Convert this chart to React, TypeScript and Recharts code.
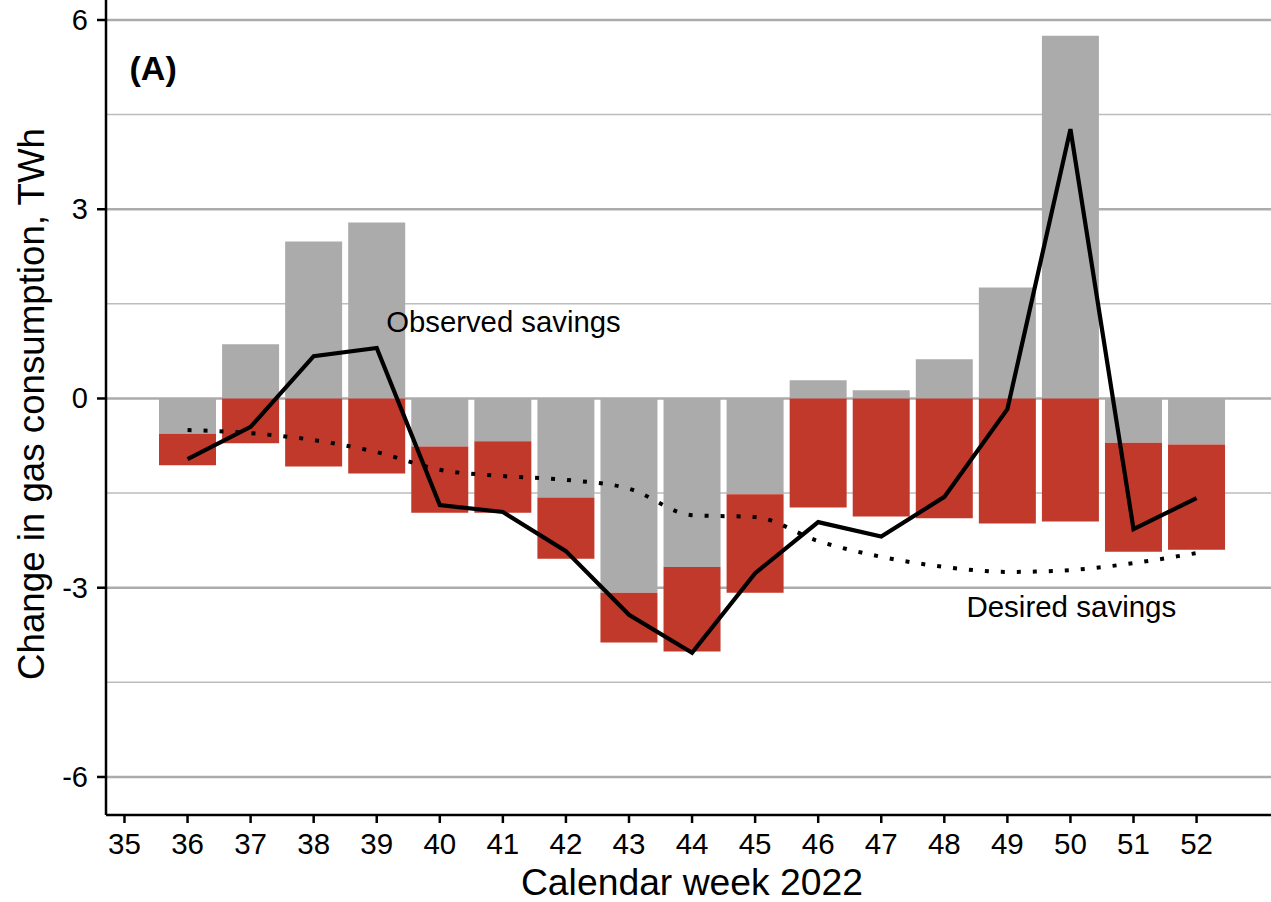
import React from 'react';
import { ComposedChart, Bar, Line, XAxis, YAxis, CartesianGrid, ReferenceDot, Label } from 'recharts';

const weeks = [36, 37, 38, 39, 40, 41, 42, 43, 44, 45, 46, 47, 48, 49, 50, 51, 52];
const weatherEffect = [-0.56, 0.86, 2.49, 2.79, -0.76, -0.68, -1.57, -3.08, -2.67, -1.52, 0.29, 0.13, 0.62, 1.76, 5.75, -0.7, -0.73];
const savingsEffect = [-0.5, -0.71, -1.08, -1.19, -1.05, -1.13, -0.97, -0.79, -1.34, -1.56, -1.73, -1.87, -1.9, -1.98, -1.95, -1.73, -1.67];
const observedSavings = [-0.96, -0.45, 0.67, 0.8, -1.69, -1.8, -2.42, -3.43, -4.03, -2.77, -1.96, -2.19, -1.56, -0.17, 4.27, -2.07, -1.58];
const desiredSavings = [-0.5, -0.55, -0.66, -0.85, -1.13, -1.23, -1.29, -1.43, -1.85, -1.88, -2.26, -2.51, -2.67, -2.75, -2.72, -2.61, -2.45];

const xTicks = [35, 36, 37, 38, 39, 40, 41, 42, 43, 44, 45, 46, 47, 48, 49, 50, 51, 52];
const yTicks = [-6, -3, 0, 3, 6];
const majorGrid = [-6, -3, 0, 3, 6];
const minorGrid = [-4.5, -1.5, 1.5, 4.5];

const data = weeks.map((week, i) => ({
  week,
  weather: weatherEffect[i],
  savings: savingsEffect[i],
  observed: observedSavings[i],
  desired: desiredSavings[i],
}));

const FONT = '"Liberation Sans", Arial, sans-serif';

const XTick = (props: any) => {
  const { x, y, payload } = props;
  return (
    <text x={x} y={y + 29} textAnchor="middle" fontSize={29.5} fontFamily={FONT} fill="#000">
      {payload.value}
    </text>
  );
};

const YTick = (props: any) => {
  const { x, y, payload } = props;
  return (
    <text x={x} y={y + 10} textAnchor="end" fontSize={29} fontFamily={FONT} fill="#000">
      {payload.value}
    </text>
  );
};

const note = (text: string, size: number, bold = false) => (props: any) => {
  const { viewBox } = props;
  return (
    <text x={viewBox.x + 1} y={viewBox.y + 1} fontSize={size} fontWeight={bold ? 'bold' : 'normal'} fontFamily={FONT} fill="#000">
      {text}
    </text>
  );
};

export default function App() {
  return (
    <div style={{ position: 'absolute', left: 0, top: 0, width: 1271, height: 902, overflow: 'hidden', background: '#fff' }}>
      <ComposedChart
        width={1300}
        height={902}
        data={data}
        stackOffset="sign"
        margin={{ top: 0, right: 0, left: 0, bottom: 0 }}
      >
        <CartesianGrid vertical={false} horizontalValues={minorGrid} stroke="#bdbdbd" strokeWidth={1.5} />
        <CartesianGrid vertical={false} horizontalValues={majorGrid} stroke="#ababab" strokeWidth={2.5} />
        <XAxis
          type="number"
          dataKey="week"
          domain={[34.707, 53.64]}
          ticks={xTicks}
          interval={0}
          allowDataOverflow
          height={87}
          tickSize={8}
          tickMargin={2}
          axisLine={{ stroke: '#000', strokeWidth: 2.5 }}
          tickLine={{ stroke: '#000', strokeWidth: 2.5 }}
          tick={<XTick />}
        >
          <Label
            content={() => (
              <text x={692} y={895} textAnchor="middle" fontSize={37.3} fontFamily={FONT} fill="#000">
                Calendar week 2022
              </text>
            )}
          />
        </XAxis>
        <YAxis
          type="number"
          domain={[-6.603, 6.317]}
          ticks={yTicks}
          interval={0}
          allowDataOverflow
          width={106}
          tickSize={9}
          tickMargin={9}
          axisLine={{ stroke: '#000', strokeWidth: 2.5 }}
          tickLine={{ stroke: '#000', strokeWidth: 2.5 }}
          tick={<YTick />}
        >
          <Label
            content={() => (
              <text
                transform="translate(44,404) rotate(-90)"
                textAnchor="middle"
                fontSize={36.7}
                fontFamily={FONT}
                fill="#000"
              >
                Change in gas consumption, TWh
              </text>
            )}
          />
        </YAxis>
        <Bar dataKey="weather" stackId="a" fill="#ababab" barSize={57} isAnimationActive={false} />
        <Bar dataKey="savings" stackId="a" fill="#c0392b" barSize={57} isAnimationActive={false} />
        <Line
          type="monotone"
          dataKey="desired"
          stroke="#000"
          strokeWidth={4}
          strokeDasharray="4 12"
          dot={false}
          activeDot={false}
          isAnimationActive={false}
        />
        <Line
          type="linear"
          dataKey="observed"
          stroke="#000"
          strokeWidth={4.2}
          dot={false}
          activeDot={false}
          isAnimationActive={false}
        />
        <ReferenceDot x={35.08} y={5.05} r={1} fill="none" stroke="none" label={note('(A)', 34, true)} />
        <ReferenceDot x={39.15} y={1.054} r={1} fill="none" stroke="none" label={note('Observed savings', 29.3)} />
        <ReferenceDot x={48.35} y={-3.464} r={1} fill="none" stroke="none" label={note('Desired savings', 29.5)} />
      </ComposedChart>
    </div>
  );
}
